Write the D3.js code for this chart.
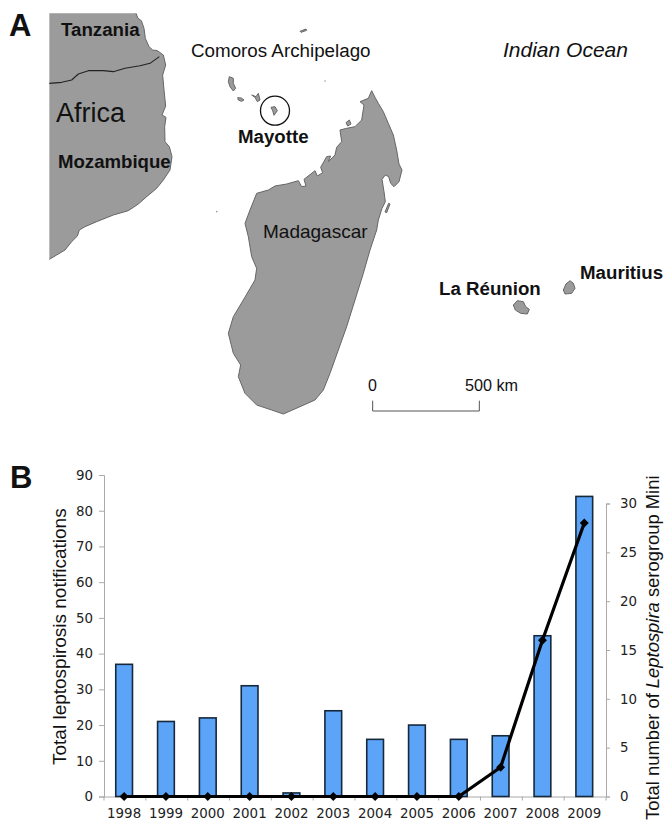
<!DOCTYPE html>
<html>
<head>
<meta charset="utf-8">
<script src="https://cdn.jsdelivr.net/npm/d3@7.9.0/dist/d3.min.js"></script>
<style>
  body { margin: 0; background: #fff; }
  svg { display: block; }
  .map-label { font-family: "Liberation Sans", Arial, sans-serif; fill: #111; }
  .axis text { font-family: "DejaVu Sans", Verdana, sans-serif; font-size: 13.4px; fill: #222; }
  .axis path, .axis line { stroke: #aaa; stroke-width: 1; }
</style>
</head>
<body>
<div id="chart"></div>
<script>
// bar chart data
const years = ['1998', '1999', '2000', '2001', '2002', '2003', '2004', '2005', '2006', '2007', '2008', '2009'];
const notifications = [37, 21, 22, 31, 1, 24, 16, 20, 16, 17, 45, 84];
const serogroupMini = [0, 0, 0, 0, 0, 0, 0, 0, 0, 3, 16, 28];
const leftTicks = [0, 10, 20, 30, 40, 50, 60, 70, 80, 90];
const rightTicks = [0, 5, 10, 15, 20, 25, 30];

// coastlines in map units
const africaCoast = [[148, 40], [408, 40], [414, 55], [424, 62], [432, 85], [436, 115], [447, 140], [458, 150], [472, 152], [490, 165], [497, 195], [488, 225], [492, 270], [497, 318], [486, 345], [498, 352], [494, 380], [495, 425], [508, 440], [516, 470], [510, 510], [490, 540], [470, 565], [440, 590], [415, 612], [385, 632], [340, 645], [290, 665], [255, 680], [238, 690], [232, 708], [215, 725], [195, 750], [170, 765], [148, 778]];
const tanzaniaBorder = [[148, 250], [185, 247], [215, 240], [235, 222], [265, 212], [310, 212], [340, 215], [375, 205], [420, 197], [450, 190], [478, 170]];
const madagascarCoast = [[515, 92], [525, 112], [535, 130], [550, 155], [565, 190], [580, 225], [590, 270], [597, 312], [606, 330], [597, 365], [582, 380], [572, 370], [566, 350], [556, 345], [546, 358], [552, 395], [556, 425], [546, 445], [535, 480], [530, 510], [510, 570], [490, 640], [465, 720], [440, 800], [415, 870], [390, 940], [370, 990], [345, 1020], [300, 1040], [250, 1062], [215, 1050], [170, 1035], [135, 1000], [115, 950], [122, 915], [100, 880], [85, 820], [100, 770], [130, 720], [165, 660], [170, 625], [155, 590], [145, 530], [135, 490], [150, 450], [170, 400], [205, 390], [225, 378], [260, 372], [295, 362], [305, 380], [318, 378], [312, 358], [345, 332], [352, 348], [368, 338], [362, 322], [380, 290], [392, 288], [385, 305], [405, 285], [410, 262], [425, 245], [420, 210], [440, 205], [465, 200], [485, 180], [492, 135], [480, 125], [505, 115]];
const grandeComore = [[88, 50], [100, 55], [100, 70], [107, 85], [100, 93], [90, 80], [85, 65]];
const moheli = [[113, 113], [124, 114], [132, 120], [124, 124], [115, 120]];
const anjouan = [[155, 105], [168, 110], [175, 100], [180, 120], [172, 125], [165, 112]];
const mayotte = [[213, 142], [225, 140], [232, 152], [222, 166], [218, 152]];
const nosyBe = [[438, 188], [448, 180], [453, 192], [443, 198]];
const sainteMarie = [[566, 430], [570, 432], [560, 458], [555, 456]];
const reunion = [[460, 165], [472, 152], [490, 155], [497, 170], [508, 178], [502, 192], [482, 190], [466, 180]];
const mauritius = [[610, 120], [618, 102], [630, 92], [640, 100], [645, 115], [635, 130], [615, 132]];
const farIslet = [[900, 94], [918, 87], [920, 91], [903, 97]];
const tinyIslands = [[975, 243], [650, 635]];

const width = 664;
const height = 821;

const svg = d3.select('#chart')
  .append('svg')
  .attr('width', width)
  .attr('height', height);

// ---- panel A: map ----
const upperLeft = { x: d3.scaleLinear().domain([0, 996]).range([0, 332]), y: d3.scaleLinear().domain([0, 810]).range([0, 270]) };
const middle = { x: d3.scaleLinear().domain([0, 720]).range([200, 440]), y: d3.scaleLinear().domain([0, 1080]).range([60, 420]) };
const lowerRight = { x: d3.scaleLinear().domain([0, 912]).range([360, 664]), y: d3.scaleLinear().domain([0, 510]).range([250, 420]) };

const landColor = '#9b9b9b';
const coastColor = '#666';

function frameLine(frame) {
  return d3.line().x(d => frame.x(d[0])).y(d => frame.y(d[1]));
}

function drawLand(points, frame) {
  svg.append('path')
    .attr('d', frameLine(frame)(points) + 'Z')
    .attr('fill', landColor)
    .attr('stroke', coastColor)
    .attr('stroke-width', 1)
    .attr('stroke-linejoin', 'round');
}

function drawOutline(points, frame, color, w) {
  svg.append('path')
    .attr('d', frameLine(frame)(points))
    .attr('fill', 'none')
    .attr('stroke', color)
    .attr('stroke-width', w)
    .attr('stroke-linejoin', 'round');
}

// Africa is cut off straight at the top and left, only the coast gets a line
svg.append('path')
  .attr('d', frameLine(upperLeft)(africaCoast) + 'Z')
  .attr('fill', landColor);
drawOutline(africaCoast.slice(1), upperLeft, coastColor, 1);
drawOutline(tanzaniaBorder, upperLeft, '#222', 1.1);
drawLand(farIslet, upperLeft);

[madagascarCoast, grandeComore, moheli, anjouan, mayotte, nosyBe, sainteMarie].forEach(d => drawLand(d, middle));
[reunion, mauritius].forEach(d => drawLand(d, lowerRight));

svg.selectAll('circle.islet')
  .data(tinyIslands)
  .join('circle')
  .attr('class', 'islet')
  .attr('cx', d => upperLeft.x(d[0]))
  .attr('cy', d => upperLeft.y(d[1]))
  .attr('r', 0.8)
  .attr('fill', '#999');

// circle round Mayotte
svg.append('circle')
  .attr('cx', upperLeft.x(825))
  .attr('cy', upperLeft.y(332))
  .attr('r', 14.5)
  .attr('fill', 'none')
  .attr('stroke', '#111')
  .attr('stroke-width', 1.3);

function label(text, x, y, size, opts = {}) {
  svg.append('text')
    .attr('class', 'map-label')
    .attr('x', x)
    .attr('y', y)
    .attr('font-size', size)
    .attr('font-weight', opts.weight || 'normal')
    .attr('font-style', opts.style || 'normal')
    .text(text);
}

label('A', 9, 36, 31, { weight: 'bold' });
label('B', 10, 488, 31, { weight: 'bold' });
label('Tanzania', 61, 36, 18.7, { weight: 'bold' });
label('Comoros Archipelago', 191, 57, 18.8);
label('Indian Ocean', 503, 57, 21, { style: 'italic' });
label('Africa', 56, 122, 27);
label('Mozambique', 58, 168, 18.6, { weight: 'bold' });
label('Mayotte', 238, 143, 18.7, { weight: 'bold' });
label('Madagascar', 263, 238, 19);
label('La Réunion', 439, 295, 18.7, { weight: 'bold' });
label('Mauritius', 580, 279, 18.7, { weight: 'bold' });
label('0', 368, 391, 16);
label('500 km', 465, 391, 16.2);

// scale bar
drawOutline([[38, 452], [38, 483], [358, 483], [358, 452]], lowerRight, '#555', 1);

// ---- panel B: chart ----
const plot = { left: 104, right: 606, bottom: 796.5 };

const xScale = d3.scaleBand()
  .domain(years)
  .range([plot.left - 0.8, plot.right - 0.8])
  .paddingInner(0.6)
  .paddingOuter(0.3);

const yLeft = d3.scaleLinear().domain([0, 90]).range([plot.bottom, 475]);
const yRight = d3.scaleLinear().domain([0, 30]).range([plot.bottom, 503.5]);

svg.append('g')
  .attr('class', 'axis')
  .attr('transform', `translate(${plot.left},0)`)
  .call(d3.axisLeft(yLeft).tickValues(leftTicks).tickSizeOuter(0).tickSize(5).tickPadding(6));

svg.append('g')
  .attr('class', 'axis')
  .attr('transform', `translate(${plot.right},0)`)
  .call(d3.axisRight(yRight).tickValues(rightTicks).tickSizeOuter(0).tickSize(4).tickPadding(10));

const xAxis = svg.append('g')
  .attr('class', 'axis')
  .attr('transform', `translate(0,${plot.bottom})`)
  .call(d3.axisBottom(xScale).tickSizeOuter(0).tickSize(0).tickPadding(12));

// category ticks sit between the bars
xAxis.selectAll('line.sep')
  .data(d3.range(years.length + 1))
  .join('line')
  .attr('class', 'sep')
  .attr('x1', i => plot.left + i * xScale.step())
  .attr('x2', i => plot.left + i * xScale.step())
  .attr('y1', 0)
  .attr('y2', 4);

svg.append('g')
  .selectAll('rect')
  .data(years)
  .join('rect')
  .attr('x', d => xScale(d))
  .attr('y', (d, i) => yLeft(notifications[i]))
  .attr('width', xScale.bandwidth())
  .attr('height', (d, i) => plot.bottom - yLeft(notifications[i]))
  .attr('fill', '#5ca4f7')
  .attr('stroke', '#16283c')
  .attr('stroke-width', 1.6);

const lineGen = d3.line()
  .x((d, i) => xScale(years[i]) + xScale.bandwidth() / 2)
  .y(d => yRight(d));

svg.append('path')
  .attr('d', lineGen(serogroupMini))
  .attr('fill', 'none')
  .attr('stroke', '#000')
  .attr('stroke-width', 3.2);

svg.append('g')
  .selectAll('path')
  .data(serogroupMini)
  .join('path')
  .attr('d', d3.symbol().type(d3.symbolSquare).size(40))
  .attr('transform', (d, i) => `translate(${xScale(years[i]) + xScale.bandwidth() / 2},${yRight(d)}) rotate(45)`)
  .attr('fill', '#000');

// axis titles
svg.append('text')
  .attr('class', 'map-label')
  .attr('transform', 'translate(66,765) rotate(-90)')
  .attr('font-size', 19)
  .text('Total leptospirosis notifications');

const rightTitle = svg.append('text')
  .attr('class', 'map-label')
  .attr('transform', 'translate(659,820) rotate(-90)')
  .attr('font-size', 18.4);
rightTitle.append('tspan').text('Total number of ');
rightTitle.append('tspan').attr('font-style', 'italic').text('Leptospira');
rightTitle.append('tspan').text(' serogroup Mini');
</script>
</body>
</html>
